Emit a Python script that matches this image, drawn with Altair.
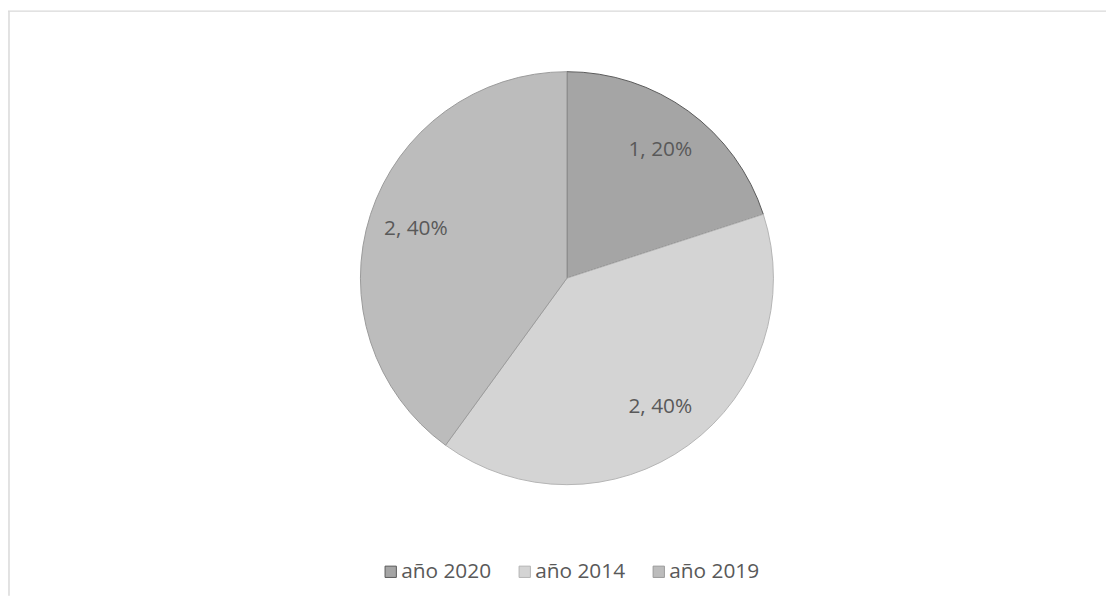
import altair as alt
import pandas as pd

series = ["año 2020", "año 2014", "año 2019"]
values = [1, 2, 2]
percents = ["20%", "40%", "40%"]
fills = ["#a5a5a5", "#d4d4d4", "#bcbcbc"]
strokes = ["#5a5a5a", "#b4b4b4", "#9a9a9a"]

df = pd.DataFrame({
    "serie": series,
    "valor": values,
    "orden": list(range(len(series))),
    "etiqueta": [f"{v}, {p}" for v, p in zip(values, percents)],
})

W, H = 1106, 590
CX, CY, R = 563, 270, 208

theta = alt.Theta("valor:Q", stack=True)
order = alt.Order("orden:Q")

color = alt.Color(
    "serie:N",
    scale=alt.Scale(domain=series, range=fills),
    legend=alt.Legend(
        title=None, orient="none", direction="horizontal",
        legendX=375, legendY=555, symbolType="square", symbolSize=130,
        labelFont="Open Sans", labelFontSize=21, labelColor="#595959",
        labelOffset=0, columnPadding=23, gridAlign="all",
        symbolStrokeWidth=1, padding=0,
    ),
)
stroke = alt.Stroke("serie:N", scale=alt.Scale(domain=series, range=strokes), legend=None)

base = alt.Chart(df)

arcs = base.mark_arc(radius=R, strokeWidth=1).encode(
    theta=theta, order=order, color=color, stroke=stroke,
    x=alt.value(CX), y=alt.value(CY),
)

labels = base.mark_text(radius=160, font="Open Sans", fontSize=21, color="#595959").encode(
    theta=theta, order=order, text="etiqueta:N",
    x=alt.value(CX), y=alt.value(CY),
)

frame_top = alt.Chart(pd.DataFrame({"a": [0]})).mark_rule(color="#d9d9d9", strokeWidth=1.5).encode(
    x=alt.value(0), x2=alt.value(W), y=alt.value(1)
)
frame_left = alt.Chart(pd.DataFrame({"a": [0]})).mark_rule(color="#d9d9d9", strokeWidth=1.5).encode(
    x=alt.value(1), y=alt.value(1), y2=alt.value(H)
)

chart = alt.layer(arcs, labels, frame_top, frame_left).properties(
    width=W, height=H, padding=0, autosize=alt.AutoSizeParams(type="none"),
    background="white",
).configure_view(stroke=None)

chart.save("out.html", embed_options={"renderer": "svg", "actions": False})
